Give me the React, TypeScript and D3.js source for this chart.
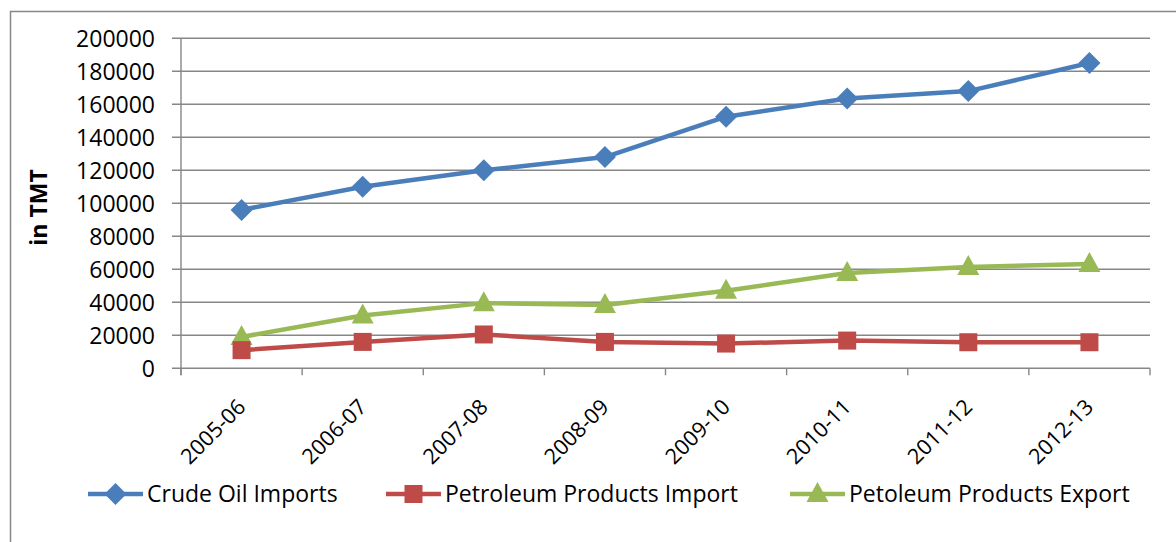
import React, { useEffect, useRef } from "react";
import * as d3 from "d3";

const categories = ["2005-06", "2006-07", "2007-08", "2008-09", "2009-10", "2010-11", "2011-12", "2012-13"];
const crudeOilImports = [96000, 110000, 120000, 128000, 152500, 163500, 168000, 185000];
const petroleumProductsImport = [11000, 16000, 20500, 16000, 15000, 16800, 15800, 15800];
const petroleumProductsExport = [19000, 32000, 39500, 38300, 47000, 57700, 61400, 63200];
const yTicks = [0, 20000, 40000, 60000, 80000, 100000, 120000, 140000, 160000, 180000, 200000];
const seriesNames = ["Crude Oil Imports", "Petroleum Products Import", "Petoleum Products Export"];

const W = 1176;
const H = 542;
const FONT = "'Open Sans', 'Liberation Sans', sans-serif";

export default function App() {
  const ref = useRef<SVGSVGElement>(null);
  useEffect(() => {
    const svg = d3.select(ref.current);
    svg.selectAll("*").remove();

    const left = 181, right = 1150, top = 38.3, bottom = 368.3;
    const x = d3.scaleBand().domain(categories).range([left, right]).paddingInner(0).paddingOuter(0);
    const y = d3.scaleLinear().domain([0, 200000]).range([bottom, top]);
    const cx = (c: string) => (x(c) as number) + x.bandwidth() / 2;

    svg.append("rect").attr("x", 10.5).attr("y", 11.5).attr("width", 1300).attr("height", 700)
      .attr("fill", "white").attr("stroke", "#878787").attr("stroke-width", 1.5);

    const grid = "#878787";
    yTicks.forEach((t) => {
      svg.append("line").attr("x1", 172).attr("x2", right).attr("y1", y(t)).attr("y2", y(t))
        .attr("stroke", grid).attr("stroke-width", 1.4);
      svg.append("text").attr("x", 155).attr("y", y(t)).attr("dy", "0.36em").attr("text-anchor", "end")
        .attr("font-family", FONT).attr("font-size", 23).attr("fill", "#000").text(String(t));
    });
    svg.append("line").attr("x1", left).attr("x2", left).attr("y1", top).attr("y2", bottom + 7)
      .attr("stroke", grid).attr("stroke-width", 1.4);
    const bounds = categories.map((c) => x(c) as number).concat([right]);
    bounds.forEach((b) => {
      svg.append("line").attr("x1", b).attr("x2", b).attr("y1", bottom).attr("y2", bottom + 7)
        .attr("stroke", grid).attr("stroke-width", 1.4);
    });
    categories.forEach((c) => {
      const px = cx(c), py = 403;
      svg.append("text").attr("transform", `translate(${px},${py}) rotate(-45)`)
        .attr("text-anchor", "end").attr("dy", "0.35em")
        .attr("font-family", FONT).attr("font-size", 21.5).attr("fill", "#000").text(c);
    });
    svg.append("text").attr("transform", `translate(39,207.5) rotate(-90)`).attr("text-anchor", "middle")
      .attr("dy", "0.35em").attr("font-family", FONT).attr("font-size", 23).attr("font-weight", "bold")
      .attr("fill", "#000").text("in TMT");

    const series = [
      { name: seriesNames[0], data: crudeOilImports, color: "#4A7EBB", marker: "diamond" },
      { name: seriesNames[1], data: petroleumProductsImport, color: "#BE4B48", marker: "square" },
      { name: seriesNames[2], data: petroleumProductsExport, color: "#98B954", marker: "triangle" },
    ];

    const drawMarker = (g: any, kind: string, px: number, py: number, color: string) => {
      if (kind === "diamond") {
        g.append("path").attr("d", `M${px},${py - 11}L${px + 11},${py}L${px},${py + 11}L${px - 11},${py}Z`).attr("fill", color);
      } else if (kind === "square") {
        g.append("rect").attr("x", px - 9).attr("y", py - 9).attr("width", 18).attr("height", 18).attr("fill", color);
      } else {
        g.append("path").attr("d", `M${px},${py - 12}L${px + 11},${py + 8}L${px - 11},${py + 8}Z`).attr("fill", color);
      }
    };

    const line = d3.line<number>().x((_, i) => cx(categories[i])).y((d) => y(d));
    [...series].reverse().forEach((s) => {
      const g = svg.append("g");
      g.append("path").attr("d", line(s.data)).attr("fill", "none").attr("stroke", s.color)
        .attr("stroke-width", 4.5).attr("stroke-linejoin", "round");
      s.data.forEach((d, i) => drawMarker(g, s.marker, cx(categories[i]), y(d), s.color));
    });

    const legendItems = [
      { x0: 88, tx: 147 },
      { x0: 386, tx: 445 },
      { x0: 790, tx: 849 },
    ];
    const ly = 494;
    series.forEach((s, i) => {
      const g = svg.append("g");
      const L = legendItems[i];
      g.append("line").attr("x1", L.x0).attr("x2", L.x0 + 55).attr("y1", ly).attr("y2", ly)
        .attr("stroke", s.color).attr("stroke-width", 4.5);
      drawMarker(g, s.marker, L.x0 + 27.5, ly, s.color);
      g.append("text").attr("x", L.tx).attr("y", ly).attr("dy", "0.35em").attr("font-family", FONT)
        .attr("font-size", 23).attr("fill", "#000").text(s.name);
    });
  }, []);

  return (
    <svg ref={ref} width={W} height={H}
      style={{ position: "absolute", left: 0, top: 0, display: "block", background: "white" }} />
  );
}
